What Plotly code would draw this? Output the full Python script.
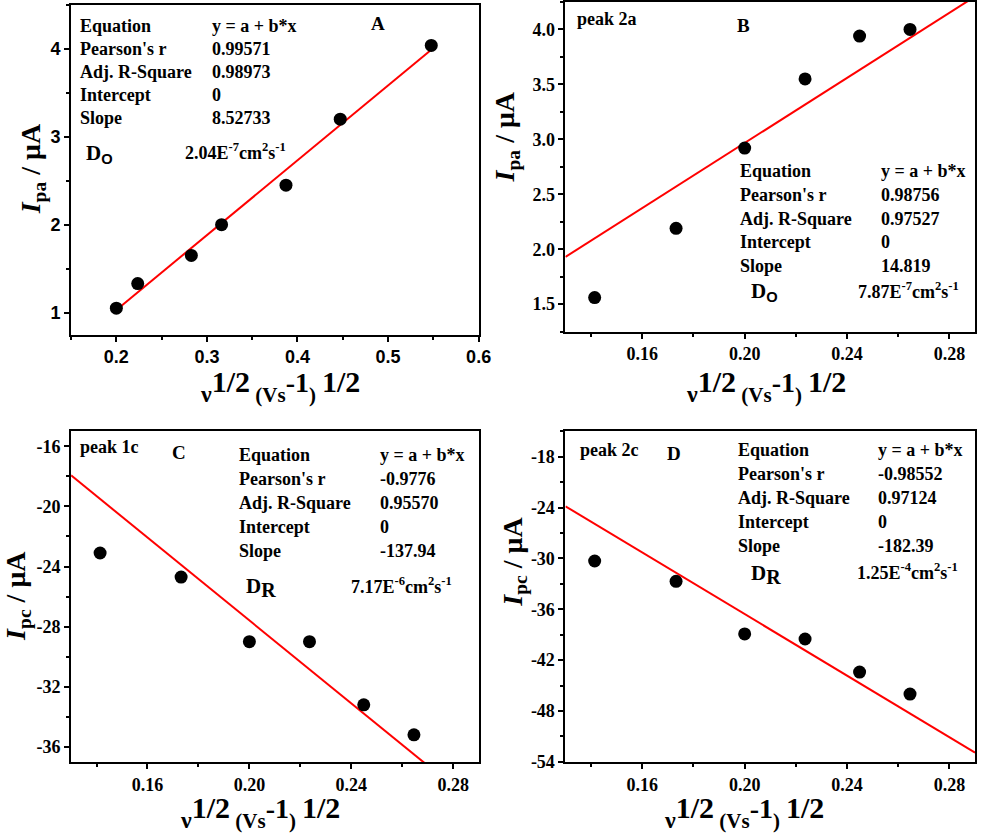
import plotly.graph_objects as go

# ---------------- data ----------------
xA = [0.2000, 0.2236, 0.2828, 0.3162, 0.3873, 0.4472, 0.5477]
yA = [1.05, 1.33, 1.65, 2.00, 2.45, 3.20, 4.04]
fitA_x = [0.200, 0.5477]
fitA_y = [1.03, 3.99]

x_scan = [0.1414, 0.1732, 0.2000, 0.2236, 0.2449, 0.2646]
yB = [1.56, 2.19, 2.92, 3.55, 3.94, 4.00]
fitB_x = [0.13, 0.29]
fitB_y = [1.93, 4.30]

yC = [-23.1, -24.7, -29.0, -29.0, -33.2, -35.2]
fitC_x = [0.13, 0.29]
fitC_y = [-17.93, -40.0]

yD = [-30.3, -32.7, -38.9, -39.5, -43.4, -46.0]
fitD_x = [0.13, 0.29]
fitD_y = [-23.85, -52.9]

# tick labels
xticksA = [0.2, 0.3, 0.4, 0.5, 0.6]
xticksA_txt = ["0.2", "0.3", "0.4", "0.5", "0.6"]
yticksA = [1, 2, 3, 4]
yticksA_txt = ["1", "2", "3", "4"]
xticks_scan = [0.16, 0.20, 0.24, 0.28]
xticks_scan_txt = ["0.16", "0.20", "0.24", "0.28"]
yticksB = [1.5, 2.0, 2.5, 3.0, 3.5, 4.0]
yticksB_txt = ["1.5", "2.0", "2.5", "3.0", "3.5", "4.0"]
yticksC = [-36, -32, -28, -24, -20, -16]
yticksC_txt = ["-36", "-32", "-28", "-24", "-20", "-16"]
yticksD = [-54, -48, -42, -36, -30, -24, -18]
yticksD_txt = ["-54", "-48", "-42", "-36", "-30", "-24", "-18"]

box_labels = ["Equation", "Pearson's r", "Adj. R-Square", "Intercept", "Slope"]
valsA = ["y = a + b*x", "0.99571", "0.98973", "0", "8.52733"]
valsB = ["y = a + b*x", "0.98756", "0.97527", "0", "14.819"]
valsC = ["y = a + b*x", "-0.9776", "0.95570", "0", "-137.94"]
valsD = ["y = a + b*x", "-0.98552", "0.97124", "0", "-182.39"]

W, H = 991, 840
def px(x): return x / W
def py(y): return 1 - y / H

SERIF = "Liberation Serif"
SANS = "Liberation Sans"

fig = go.Figure()

panels = [
    (xA, yA, fitA_x, fitA_y, ""),
    (x_scan, yB, fitB_x, fitB_y, "2"),
    (x_scan, yC, fitC_x, fitC_y, "3"),
    (x_scan, yD, fitD_x, fitD_y, "4"),
]
for xs, ys, fx, fy, s in panels:
    fig.add_trace(go.Scatter(x=fx, y=fy, mode="lines",
                             line=dict(color="#ff0000", width=2),
                             xaxis="x" + s, yaxis="y" + s, showlegend=False))
    fig.add_trace(go.Scatter(x=xs, y=ys, mode="markers",
                             marker=dict(color="black", size=13),
                             xaxis="x" + s, yaxis="y" + s, showlegend=False,
                             cliponaxis=False))

def axis(domain, rng, tv, tt, minor, anchor, fam, size):
    return dict(domain=domain, range=rng, tickmode="array", tickvals=tv,
                ticktext=["<b>%s</b>" % t for t in tt],
                showline=True, linecolor="black", linewidth=2, mirror=True,
                ticks="outside", ticklen=5, tickwidth=2, tickcolor="black",
                minor=dict(ticks="outside", ticklen=3, dtick=minor, tick0=0,
                           tickcolor="black", tickwidth=1.5),
                showgrid=False, zeroline=False, anchor=anchor,
                tickfont=dict(family=fam, size=size, color="black"))

xdomL = [px(72), px(485)]
xdomR = [px(573), px(988)]
ydomT_A = [py(338), py(4)]
ydomT_B = [py(335), py(1)]
ydomB = [py(771), py(436)]

fig.update_layout(
    width=W, height=H, margin=dict(l=0, r=0, t=0, b=0),
    paper_bgcolor="white", plot_bgcolor="white",
    xaxis=axis(xdomL, [0.15, 0.6], xticksA, xticksA_txt, 0.05, "y", SANS, 18),
    yaxis=axis(ydomT_A, [0.75, 4.5], yticksA, yticksA_txt, 0.5, "x", SANS, 18),
    xaxis2=axis(xdomR, [0.13, 0.29], xticks_scan, xticks_scan_txt, 0.02, "y2", SERIF, 18),
    yaxis2=axis(ydomT_B, [1.25, 4.25], yticksB, yticksB_txt, 0.25, "x2", SERIF, 18),
    xaxis3=axis(xdomL, [0.13, 0.29], xticks_scan, xticks_scan_txt, 0.02, "y3", SERIF, 18),
    yaxis3=axis(ydomB, [-37, -15], yticksC, yticksC_txt, 2, "x3", SERIF, 18),
    xaxis4=axis(xdomR, [0.13, 0.29], xticks_scan, xticks_scan_txt, 0.02, "y4", SERIF, 18),
    yaxis4=axis(ydomB, [-54, -15], yticksD, yticksD_txt, 3, "x4", SERIF, 18),
)

ann = []
def text(x, y, t, size=18, anchor="left", angle=0, yanchor="middle"):
    ann.append(dict(x=px(x), y=py(y), xref="paper", yref="paper", text="<b>%s</b>" % t,
                    showarrow=False, xanchor=anchor, yanchor=yanchor,
                    textangle=angle,
                    font=dict(family=SERIF, size=size, color="black")))

def box(x1, x2, y0, dy, vals):
    for i, (lab, v) in enumerate(zip(box_labels, vals)):
        text(x1, y0 + i * dy, lab)
        text(x2, y0 + i * dy, v)

DO = "D<sub><span style='font-family:Liberation Sans'>O</span></sub>"
DR = "D<sub><span style='font-size:20px'>R</span></sub>"
# Panel A
box(79, 213, 25, 23.3, valsA)
text(383, 23, "A", 19, "center")
text(85, 155, DO, 21)
text(185, 153, "2.04E<sup>-7</sup>cm<sup>2</sup>s<sup>-1</sup>")
# Panel B
text(583, 18, "peak 2a")
text(753, 25, "B", 19, "center")
box(748, 891, 172, 24.2, valsB)
text(759, 295, DO, 21)
text(867, 293, "7.87E<sup>-7</sup>cm<sup>2</sup>s<sup>-1</sup>")
# Panel C
text(79, 452, "peak 1c")
text(181, 457, "C", 19, "center")
box(240, 383, 460, 24.3, valsC)
text(247, 594, DR, 21)
text(354, 592, "7.17E<sup>-6</sup>cm<sup>2</sup>s<sup>-1</sup>")
# Panel D
text(586, 455, "peak 2c")
text(683, 459, "D", 19, "center")
box(746, 888, 455, 24.4, valsD)
text(759, 581, DR, 21)
text(866, 578, "1.25E<sup>-4</sup>cm<sup>2</sup>s<sup>-1</sup>")

xtitle = ("ν<sup><span style='font-size:30px'>1/2</span></sup>"
          "<span style='font-size:21px'> (Vs</span>"
          "<sup><span style='font-size:28px'>-1</span></sup>"
          "<span style='font-size:21px'>)</span>"
          " <sup><span style='font-size:30px'>1/2</span></sup>")
text(284, 390, xtitle, 24, "center")
text(776, 390, xtitle, 24, "center")
text(263, 822, xtitle, 24, "center")
text(754, 822, xtitle, 24, "center")

ytA = "<i>I</i><sub>pa</sub> / μA"
ytC = "<i>I</i><sub>pc</sub> / μA"
text(33, 170, ytA, 28, "center", -90)
text(513, 138, ytA, 28, "center", -90)
text(17, 603, ytC, 28, "center", -90)
text(521, 568, ytC, 28, "center", -90)

fig.update_layout(annotations=ann)
fig.write_html("out.html")
